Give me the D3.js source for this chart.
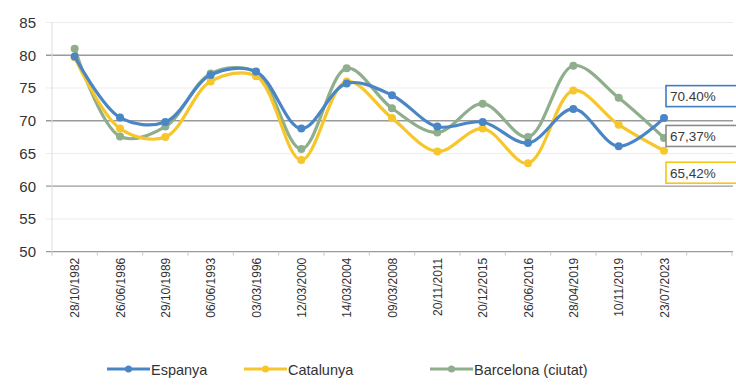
<!DOCTYPE html>
<html>
<head>
<meta charset="utf-8">
<script src="https://cdn.jsdelivr.net/npm/d3@7"></script>
<style>
  html, body { margin: 0; padding: 0; background: #fff; }
  svg { display: block; font-family: "Liberation Sans", Arial, sans-serif; }
</style>
</head>
<body>
<svg id="chart" width="736" height="385"></svg>
<script>
// Election dates (x categories)
const categories = [
  "28/10/1982", "26/06/1986", "29/10/1989", "06/06/1993", "03/03/1996",
  "12/03/2000", "14/03/2004", "09/03/2008", "20/11/2011", "20/12/2015",
  "26/06/2016", "28/04/2019", "10/11/2019", "23/07/2023"
];

// Turnout (%) per series
const espanya   = [79.8, 70.5, 69.8, 77.0, 77.5, 68.8, 75.7, 73.9, 69.1, 69.8, 66.6, 71.8, 66.1, 70.40];
const catalunya = [79.7, 68.8, 67.5, 76.0, 76.8, 64.0, 76.0, 70.4, 65.3, 68.8, 63.5, 74.6, 69.4, 65.42];
const barcelona = [81.0, 67.6, 69.1, 77.2, 77.4, 65.7, 78.0, 71.9, 68.2, 72.6, 67.5, 78.4, 73.5, 67.37];

const seriesNames  = ["Espanya", "Catalunya", "Barcelona (ciutat)"];
const seriesColors = ["#4a86c6", "#f7c62a", "#8fae8c"];

// Final-value callouts, in series order (Espanya, Catalunya, Barcelona)
const endLabels       = ["70.40%", "65,42%", "67,37%"];
const endLabelBorders = ["#3f7dc0", "#f5c518", "#8c8c8c"];
const endLabelShift   = [-22, 22, -2];

const yTicks = [50, 55, 60, 65, 70, 75, 80, 85];

(function draw() {
  const svg = d3.select("#chart");
  const slots = categories.length + 1;       // one empty slot at the end
  const plotLeft = 52, plotRight = 732, plotTop = 22.5, plotBottom = 251.7;

  const xs = d3.scaleLinear().domain([0, slots]).range([plotLeft, plotRight]);
  const xc = i => xs(i + 0.5);
  const y = d3.scaleLinear().domain([50, 85]).range([plotBottom, plotTop]);

  // Horizontal gridlines: tens darker, fives faint
  const grid = svg.append("g");
  yTicks.forEach(v => {
    grid.append("line")
      .attr("x1", plotLeft - 6).attr("x2", plotRight + 1)
      .attr("y1", y(v)).attr("y2", y(v))
      .attr("stroke", v % 10 === 0 ? "#9a9a9a" : "#ececec")
      .attr("stroke-width", v % 10 === 0 ? 1.3 : 1);
  });

  // Vertical axis line
  svg.append("line")
    .attr("x1", plotLeft).attr("x2", plotLeft)
    .attr("y1", y(85)).attr("y2", plotBottom)
    .attr("stroke", "#dddddd").attr("stroke-width", 1);

  // Y axis labels
  const yAxis = d3.axisLeft(y).tickValues(yTicks).tickSize(0).tickPadding(0).tickFormat(d3.format("d"));
  const yg = svg.append("g").attr("transform", "translate(36,0)").call(yAxis);
  yg.select(".domain").remove();
  yg.selectAll("text").attr("font-size", 15).attr("fill", "#333");

  // X axis: boundary ticks and rotated date labels
  const xg = svg.append("g");
  d3.range(slots + 1).forEach(i => {
    xg.append("line")
      .attr("x1", xs(i)).attr("x2", xs(i))
      .attr("y1", plotBottom).attr("y2", plotBottom + 4)
      .attr("stroke", "#c8c8c8");
  });
  categories.forEach((c, i) => {
    xg.append("text")
      .attr("transform", `translate(${xc(i) + 4.5},${plotBottom + 6}) rotate(-90)`)
      .attr("text-anchor", "end")
      .attr("font-size", 12)
      .attr("fill", "#333")
      .text(c);
  });

  // Series lines with markers
  const allSeries = [espanya, catalunya, barcelona];
  const line = d3.line()
    .x((d, i) => xc(i))
    .y(d => y(d))
    .curve(d3.curveCatmullRom.alpha(0.5));

  // draw Barcelona first so Espanya sits on top
  [2, 1, 0].forEach(s => {
    const g = svg.append("g");
    g.append("path")
      .datum(allSeries[s])
      .attr("d", line)
      .attr("fill", "none")
      .attr("stroke", seriesColors[s])
      .attr("stroke-width", 3.2)
      .attr("stroke-linejoin", "round");
    g.selectAll("circle")
      .data(allSeries[s])
      .join("circle")
      .attr("cx", (d, i) => xc(i))
      .attr("cy", d => y(d))
      .attr("r", 4)
      .attr("fill", seriesColors[s]);
  });

  // End-value callout boxes
  allSeries.forEach((vals, s) => {
    const last = vals[vals.length - 1];
    const cy = y(last) + endLabelShift[s];
    const g = svg.append("g");
    g.append("rect")
      .attr("x", xc(categories.length - 1) + 2)
      .attr("y", cy - 10.5)
      .attr("width", 80)
      .attr("height", 21)
      .attr("fill", "#fff")
      .attr("stroke", endLabelBorders[s])
      .attr("stroke-width", 1.6);
    g.append("text")
      .attr("x", xc(categories.length - 1) + 6)
      .attr("y", cy + 5)
      .attr("font-size", 13.5)
      .attr("fill", "#3a3a3a")
      .text(endLabels[s]);
  });

  // Legend
  const legendX = [107, 244, 430];
  const legendY = 369;
  seriesNames.forEach((name, s) => {
    const g = svg.append("g").attr("transform", `translate(${legendX[s]},${legendY})`);
    g.append("line").attr("x1", 0).attr("x2", 43).attr("y1", 0).attr("y2", 0)
      .attr("stroke", seriesColors[s]).attr("stroke-width", 3);
    g.append("circle").attr("cx", 21.5).attr("cy", 0).attr("r", 3.5).attr("fill", seriesColors[s]);
    g.append("text").attr("x", 44).attr("y", 5.5).attr("font-size", 14.5).attr("fill", "#333").text(name);
  });
})();
</script>
</body>
</html>
